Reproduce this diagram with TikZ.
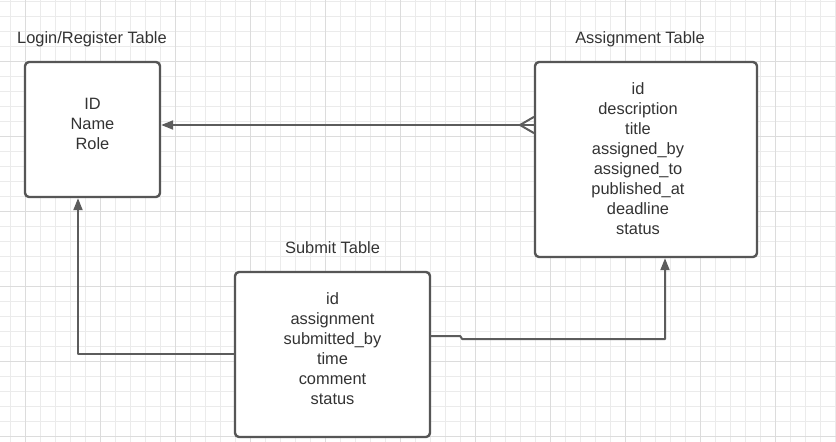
\documentclass[tikz,border=0pt]{standalone}
\usepackage{fontspec}
\setmainfont{Liberation Sans}
\usetikzlibrary{arrows.meta,positioning}

\definecolor{boxgray}{HTML}{565656}
\definecolor{linkgray}{HTML}{5C5C5C}
\definecolor{txtgray}{HTML}{333333}
\definecolor{gridminor}{HTML}{EBEBEB}
\definecolor{gridmajor}{HTML}{DCDCDC}

\begin{document}
\begin{tikzpicture}[x=1pt,y=-1pt,line cap=round,line join=round,
  dbtable/.style={draw=boxgray,line width=2.4pt,rounded corners=4pt,fill=white,inner sep=0pt},
  fields/.style={font=\fontsize{16.4}{20}\selectfont,text=txtgray,align=center,inner sep=0pt},
  caption/.style={font=\fontsize{16.4}{20}\selectfont,text=txtgray,inner sep=0pt,anchor=base},
  link/.style={draw=linkgray,line width=2pt},
  tip/.style={-{Triangle[length=12pt,width=9pt]}}]
\useasboundingbox (0,0) rectangle (836,442);
\fill[white] (0,0) rectangle (836,442);
% grid
\foreach \gx in {10.7,25.7,...,836} \draw[gridminor,line width=1pt] (\gx,0) -- (\gx,442);
\foreach \gy in {1.3,16.3,...,442} \draw[gridminor,line width=1pt] (0,\gy) -- (836,\gy);
\foreach \gx in {25.7,100.7,...,836} \draw[gridmajor,line width=1pt] (\gx,0) -- (\gx,442);
\foreach \gy in {61.3,136.3,...,442} \draw[gridmajor,line width=1pt] (0,\gy) -- (836,\gy);

% tables
\node[dbtable,minimum width=135pt,minimum height=135pt] (login) at (92.5,129.5) {};
\node[dbtable,minimum width=222pt,minimum height=195pt] (assign) at (646,159.5) {};
\node[dbtable,minimum width=195pt,minimum height=165pt] (submit) at (332.5,354.5) {};

\node[caption] (logintitle) at (92,43.3) {Login/Register Table};
\node[caption] (assigntitle) at (640,43.3) {Assignment Table};
\node[caption] (submittitle) at (332.5,253.3) {Submit Table};

\node[fields] (loginfields) at (92.5,124.2) {ID\\Name\\Role};
\node[fields] (assignfields) at (638,158.7) {id\\description\\title\\assigned\_by\\assigned\_to\\published\_at\\deadline\\status};
\node[fields] (submitfields) at (332.5,348.5) {id\\assignment\\submitted\_by\\time\\comment\\status};

% connectors
\coordinate (rowA) at (0,125);
\coordinate (rowB) at (0,354);
\coordinate (rowC) at (0,336);
\coordinate (colB) at (78,0);
\coordinate (colC) at (665,0);
\coordinate (crowtip) at (520,125);

\draw[link,tip] (assign.west |- rowA) -- (login.east |- rowA);
\draw[link] (assign.west |- 0,117) -- (crowtip) -- (assign.west |- 0,133);
\draw[link,tip] (submit.west |- rowB) -| (login.south -| colB);
\draw[link,tip] (submit.east |- rowC) -- ++(29,0) -- ++(2,3) -| (assign.south -| colC);
\end{tikzpicture}
\end{document}
